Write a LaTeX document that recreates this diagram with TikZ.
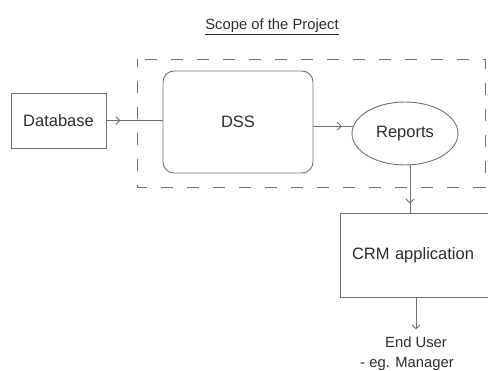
\documentclass[tikz,border=0pt]{standalone}
\usepackage{fontspec}
\setmainfont{Liberation Sans}
\usetikzlibrary{arrows.meta,shapes.geometric,decorations.markings}
\definecolor{linegray}{HTML}{707070}
\definecolor{textgray}{HTML}{2c2c2c}
\tikzset{
  box/.style={draw=linegray, line width=0.9pt, text=textgray, font=\fontsize{16.5}{20}\selectfont},
  midarrow/.style={postaction={decorate},
    decoration={markings, mark=at position #1 with {\arrow{Straight Barb[length=4pt,width=8pt]}}}},
  link/.style={draw=linegray, line width=0.9pt},
  caption/.style={text=textgray, font=\fontsize{14.8}{22}\selectfont, inner sep=1pt},
}
\begin{document}
\begin{tikzpicture}[x=1pt,y=-1pt]
  \useasboundingbox (0,0) rectangle (488,371);
  \clip (0,0) rectangle (488,371);

  % title
  \node[caption] (title) at (272,27) {\underline{Scope of the Project}};

  % project boundary
  \draw[draw=linegray, line width=0.9pt, dash pattern=on 12pt off 14pt, dash phase=4pt]
    (137,59) rectangle (485,187);

  % components
  \node[box, rectangle, minimum width=95, minimum height=55] (db) at (58.5,120.5) {Database};
  \node[box, rectangle, rounded corners=11pt, minimum width=150, minimum height=102] (dss) at (238,122) {DSS};
  \node[box, ellipse, minimum width=106, minimum height=63, inner sep=0pt] (rep) at (405,133.5) {Reports};
  \node[box, rectangle, minimum height=84, text width=176, inner xsep=12pt, align=left] (crm) at (440,255) {CRM application};

  % end user
  \node[caption] (eu1) at (416,342) {End User};
  \node[caption] (eu2) at (407,364) {- eg. Manager};

  % flows
  \draw[link, midarrow=0.25] (db.east) -- (db.east -| dss.west);
  \draw[link, midarrow=0.72] (dss.east |- rep.172) -- (rep.172);
  \draw[link, midarrow=0.81] ([xshift=5]rep.south) -- ([xshift=5]rep.south |- crm.north);
  \draw[link, -{Straight Barb[length=4pt,width=8pt]}] (crm.south -| eu1) -- ([yshift=6]eu1.north);
\end{tikzpicture}
\end{document}
